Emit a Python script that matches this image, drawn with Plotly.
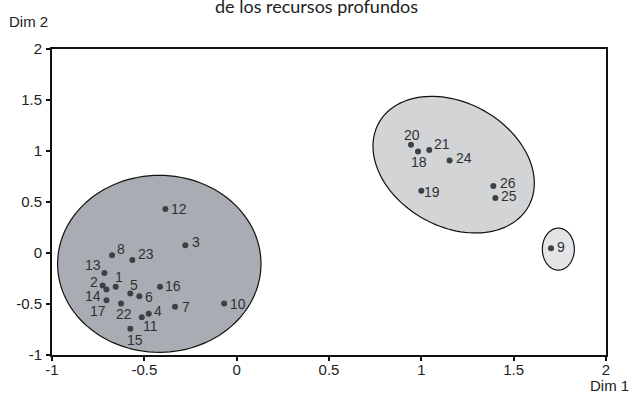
import numpy as np
import plotly.graph_objects as go

# ---- data ----
labels = ["1", "2", "3", "4", "5", "6", "7", "8", "9", "10", "11", "12", "13",
          "14", "15", "16", "17", "18", "19", "20", "21", "22", "23", "24", "25", "26"]
dim1 = [-0.655, -0.726, -0.278, -0.476, -0.576, -0.527, -0.334, -0.675, 1.702, -0.068,
        -0.514, -0.386, -0.716, -0.705, -0.576, -0.415, -0.705, 0.982, 1.000, 0.944,
        1.043, -0.626, -0.565, 1.153, 1.401, 1.390]
dim2 = [-0.332, -0.319, 0.075, -0.596, -0.398, -0.424, -0.528, -0.023, 0.046, -0.496,
        -0.630, 0.432, -0.195, -0.358, -0.743, -0.332, -0.463, 0.996, 0.611, 1.062,
        1.010, -0.496, -0.068, 0.908, 0.540, 0.657]

x_ticks = [-1, -0.5, 0, 0.5, 1, 1.5, 2]
x_ticktext = ["-1", "-0.5", "0", "0.5", "1", "1.5", "2"]
y_ticks = [-1, -0.5, 0, 0.5, 1, 1.5, 2]
y_ticktext = ["-1", "-0.5", "0", "0.5", "1", "1.5", "2"]

# cluster ellipses: centre (data), semi-axes (px), rotation (deg, screen)
clusters = [
    dict(cx=-0.419, cy=-0.106, a=101.7, b=88.5, rot=0.0, fill="#a9adb3"),
    dict(cx=1.175, cy=0.866, a=85.7, b=61.9, rot=29.2, fill="#d3d4d6"),
    dict(cx=1.742, cy=0.038, a=16.0, b=21.0, rot=0.0, fill="#e3e4e6"),
]

# label offsets (px) relative to each point: (dx, dy) screen, dy down
label_offset = {
    "1": (3, -10), "2": (-9, -4), "3": (11, -3), "4": (9, -3), "5": (4, -9),
    "6": (10, 1), "7": (11, 0), "8": (9, -6), "9": (10, -1), "10": (14, 0),
    "11": (9, 9), "12": (14, 0), "13": (-11, -8), "14": (-13, 6), "15": (5, 11),
    "16": (13, -1), "17": (-8, 11), "18": (1, 11), "19": (11, 1), "20": (1, -10),
    "21": (13, -6), "22": (3, 10), "23": (14, -6), "24": (14, -2), "25": (14, -2),
    "26": (15, -3),
}

# ---- layout geometry ----
W, H = 632, 402
ml, mr, mt, mb = 52, 26, 49, 47
pw, ph = W - ml - mr, H - mt - mb
x_rng, y_rng = [-1, 2], [-1, 2]
sx = pw / (x_rng[1] - x_rng[0])
sy = ph / (y_rng[1] - y_rng[0])

fig = go.Figure()

shapes = []
for c in clusters:
    t = np.linspace(0, 2 * np.pi, 121)
    th = np.radians(c["rot"])
    u = c["a"] * np.cos(t) * np.cos(th) - c["b"] * np.sin(t) * np.sin(th)
    v = c["a"] * np.cos(t) * np.sin(th) + c["b"] * np.sin(t) * np.cos(th)
    xs = c["cx"] + u / sx
    ys = c["cy"] - v / sy
    path = "M " + " L ".join(f"{a:.5f},{b:.5f}" for a, b in zip(xs, ys)) + " Z"
    shapes.append(dict(type="path", path=path, xref="x", yref="y",
                       fillcolor=c["fill"], line=dict(color="#111111", width=1.2),
                       layer="below"))

fig.add_trace(go.Scatter(
    x=dim1, y=dim2, mode="markers",
    marker=dict(size=6, color="#394245"),
    hoverinfo="text", text=labels, showlegend=False, cliponaxis=False,
))

annotations = []
for lab, xv, yv in zip(labels, dim1, dim2):
    dx, dy = label_offset[lab]
    annotations.append(dict(x=xv, y=yv, xref="x", yref="y", text=lab,
                            showarrow=False, xshift=dx, yshift=-dy,
                            font=dict(family="Liberation Sans, Arial", size=14, color="#2e3133")))

annotations += [
    dict(text="de los recursos profundos", xref="paper", yref="paper",
         x=(316 - ml) / pw, y=1 + (mt - 6) / ph, xanchor="center", yanchor="middle",
         showarrow=False, font=dict(family="Lato, Open Sans", size=18, color="#222222")),
    dict(text="Dim 2", xref="paper", yref="paper",
         x=(7 - ml) / pw, y=1 + (mt - 21) / ph, xanchor="left", yanchor="middle",
         showarrow=False, font=dict(family="Liberation Sans, Arial", size=15, color="#222222")),
    dict(text="Dim 1", xref="paper", yref="paper",
         x=(631 - ml) / pw, y=-(385 - (H - mb)) / ph, xanchor="right", yanchor="middle",
         showarrow=False, font=dict(family="Liberation Sans, Arial", size=15, color="#222222")),
]

axis_common = dict(showgrid=False, zeroline=False, showline=True, linecolor="#111111",
                   linewidth=2, mirror=True, ticks="outside", ticklen=4, tickwidth=1.5,
                   tickcolor="#111111",
                   tickfont=dict(family="Liberation Sans, Arial", size=15, color="#222222"))

fig.update_layout(
    width=W, height=H,
    margin=dict(l=ml, r=mr, t=mt, b=mb),
    paper_bgcolor="white", plot_bgcolor="white",
    shapes=shapes, annotations=annotations,
    xaxis=dict(range=x_rng, tickvals=x_ticks, ticktext=x_ticktext,
               ticklabelstandoff=-4, **axis_common),
    yaxis=dict(range=y_rng, tickvals=y_ticks, ticktext=y_ticktext,
               ticklabelstandoff=1, **axis_common),
    showlegend=False,
)

fig.write_html(
    "out.html",
    config={"displayModeBar": False},
    post_script="document.body.style.margin='0';document.body.style.overflow='hidden';",
)
